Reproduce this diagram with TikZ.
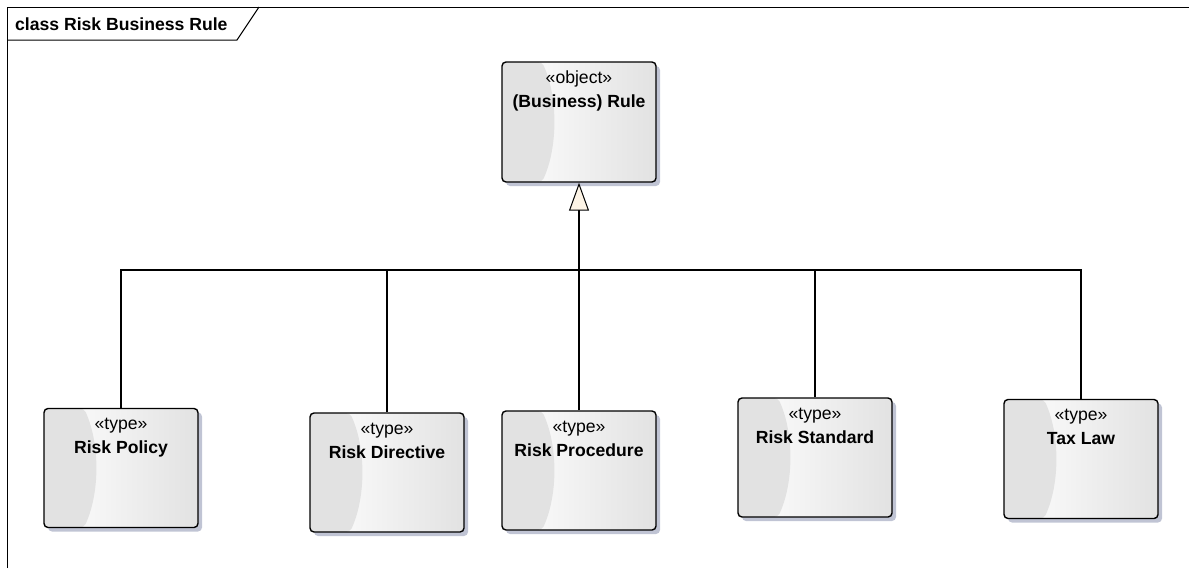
\documentclass[tikz,border=0pt]{standalone}
\usepackage{fontspec}
\setmainfont{Liberation Sans}
\usepackage{tikz}
\usetikzlibrary{arrows.meta,shadows,calc}

\definecolor{shadowblue}{RGB}{192,196,212}
\definecolor{boxgrey}{RGB}{226,226,226}
\definecolor{crescentgrey}{RGB}{226,226,226}
\definecolor{tricream}{RGB}{253,244,230}
\newcommand{\boxfont}{\fontsize{17.6}{24}\selectfont}

\tikzset{
  umlbox/.style={draw, line width=1.4pt, rounded corners=4pt, inner sep=0pt,
    minimum width=154pt, minimum height=119pt,
    drop shadow={shadow xshift=4pt, shadow yshift=-4pt, fill=shadowblue, opacity=1},
    path picture={
      \shade[left color=white, right color=boxgrey]
        (path picture bounding box.south west) rectangle (path picture bounding box.north east);
      \fill[crescentgrey] (path picture bounding box.north west) -- ++(40pt,0pt)
        .. controls +(16pt,-35pt) and +(16pt,35pt) .. ($(path picture bounding box.south west)+(40pt,0pt)$)
        -- (path picture bounding box.south west) -- cycle;
    }},
  umltext/.style={anchor=north, inner sep=0pt, yshift=-8.5pt, align=center, font=\boxfont},
  conn/.style={line width=1.3pt}
}

\begin{document}
\begin{tikzpicture}[x=1pt, y=-1pt]
    \useasboundingbox (0,0) rectangle (1189,568);
    % Draw the frame and its name tab
    \draw[line width=1pt] (7,568) -- (7,7) -- (1189,7); % frame
    \draw[line width=1pt] (7,40) -- (237,40) -- (259,7); % tab
    \node[anchor=base west, inner sep=0pt, font=\boxfont\bfseries] (title) at (15,30) {class Risk Business Rule};

    % Draw the classes
    \node[umlbox, minimum height=120pt,
      label={[umltext]north:{\rule{0pt}{13pt}«object»\\\textbf{(Business) Rule}}}] (rule) at (579,122) {};
    \node[umlbox, label={[umltext]north:{\rule{0pt}{13pt}«type»\\\textbf{Risk Policy}}}] (policy) at (121,468) {};
    \node[umlbox, label={[umltext]north:{\rule{0pt}{13pt}«type»\\\textbf{Risk Directive}}}] (directive) at (387,472.5) {};
    \node[umlbox, label={[umltext]north:{\rule{0pt}{13pt}«type»\\\textbf{Risk Procedure}}}] (procedure) at (579,470.5) {};
    \node[umlbox, label={[umltext]north:{\rule{0pt}{13pt}«type»\\\textbf{Risk Standard}}}] (standard) at (815,457.5) {};
    \node[umlbox, label={[umltext]north:{\rule{0pt}{13pt}«type»\\\textbf{Tax Law}}}] (taxlaw) at (1081,459) {};

    % Draw the generalizations
    \coordinate (bar) at (579,270);
    \draw[conn] (policy.north) |- (bar);
    \draw[conn] (directive.north) |- (bar);
    \draw[conn] (procedure.north) -- (bar);
    \draw[conn] (standard.north) |- (bar);
    \draw[conn] (taxlaw.north) |- (bar);
    \draw[conn, -{Triangle[length=28pt, width=20pt, fill=tricream, line width=1pt]}] (bar) -- (rule.south);
\end{tikzpicture}
\end{document}
